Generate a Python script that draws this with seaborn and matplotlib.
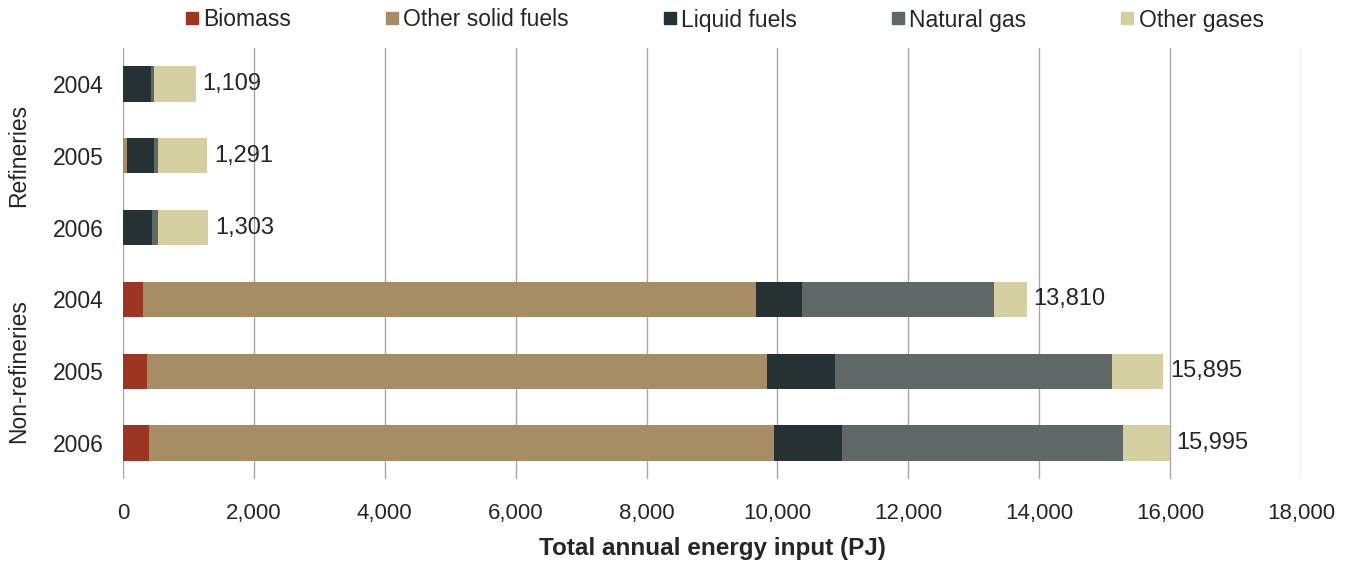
import numpy as np
import pandas as pd
import matplotlib
matplotlib.use('Agg')
import matplotlib.pyplot as plt
from matplotlib.lines import Line2D
import seaborn as sns

# =============================================================================
# Data (PJ)
# =============================================================================
groups = ['Refineries', 'Refineries', 'Refineries',
          'Non-refineries', 'Non-refineries', 'Non-refineries']
years = ['2004', '2005', '2006', '2004', '2005', '2006']

biomass = [0, 0, 0, 300, 362, 392]
other_solid = [0, 60, 0, 9370, 9476, 9553]
liquid = [425, 417, 438, 702, 1038, 1038]
natural_gas = [45, 61, 92, 2930, 4242, 4303]
other_gases = [639, 753, 773, 508, 777, 709]
totals = [1109, 1291, 1303, 13810, 15895, 15995]

fuel_names = ['Biomass', 'Other solid fuels', 'Liquid fuels', 'Natural gas', 'Other gases']
fuel_colors = ['#9C3623', '#A68D66', '#263133', '#5F6866', '#D3CFA0']

df = pd.DataFrame({'group': groups, 'year': years,
                   'Biomass': biomass, 'Other solid fuels': other_solid,
                   'Liquid fuels': liquid, 'Natural gas': natural_gas,
                   'Other gases': other_gases})
df['row'] = df['group'] + ' ' + df['year']
row_order = list(df['row'])

# cumulative sums for stacking
cum = df[fuel_names].cumsum(axis=1)

# =============================================================================
# Plot
# =============================================================================
sns.set_theme(style='white')
plt.rcParams['font.family'] = ['Liberation Sans', 'DejaVu Sans']

fig = plt.figure(figsize=(13.54, 5.69), dpi=100)
ax = fig.add_axes([123 / 1354, 1 - 479 / 569, 1178 / 1354, 431 / 569])

# draw the longest cumulative bar first so the shorter ones sit on top
for name, color in reversed(list(zip(fuel_names, fuel_colors))):
    sns.barplot(x=cum[name], y=df['row'], order=row_order, orient='h',
                color=color, width=0.49, ax=ax, saturation=1, linewidth=0)

# total labels
for i, tot in enumerate(totals):
    ax.text(tot + 100, i, f'{tot:,}', va='center', ha='left', fontsize=17)

ax.set_xlim(0, 18000)
ax.set_ylim(5.5, -0.5)
ax.set_xticks(np.arange(0, 18001, 2000))
ax.set_xticklabels([f'{v:,}' for v in range(0, 18001, 2000)])
ax.set_yticks(range(len(years)))
ax.set_yticklabels(years)
ax.tick_params(axis='x', length=0, pad=17, labelsize=16)
ax.tick_params(axis='y', length=0, pad=14, labelsize=16.5)
ax.set_xlabel('Total annual energy input (PJ)', fontsize=17.5, fontweight='bold', labelpad=10)
ax.set_ylabel('')

ax.grid(axis='x', color='#A6A6A6', linewidth=1)
ax.grid(axis='y', visible=False)
ax.set_axisbelow(True)
for s in ax.spines.values():
    s.set_visible(False)

# group labels on the left
ax.text(-0.089, 1, 'Refineries', transform=ax.get_yaxis_transform(),
        rotation=90, ha='center', va='center', fontsize=16.5)
ax.text(-0.089, 4, 'Non-refineries', transform=ax.get_yaxis_transform(),
        rotation=90, ha='center', va='center', fontsize=16.5)

# legend at the top
handles = [Line2D([], [], marker='s', linestyle='none', markersize=9,
                  markerfacecolor=c, markeredgecolor=c) for c in fuel_colors]
fig.legend(handles, fuel_names, loc='center', bbox_to_anchor=(0.534, 1 - 20 / 569),
           ncol=5, frameon=False, fontsize=16.5, handletextpad=0.1,
           columnspacing=4.0, handlelength=0.8)

plt.savefig('out.png', dpi=100)
